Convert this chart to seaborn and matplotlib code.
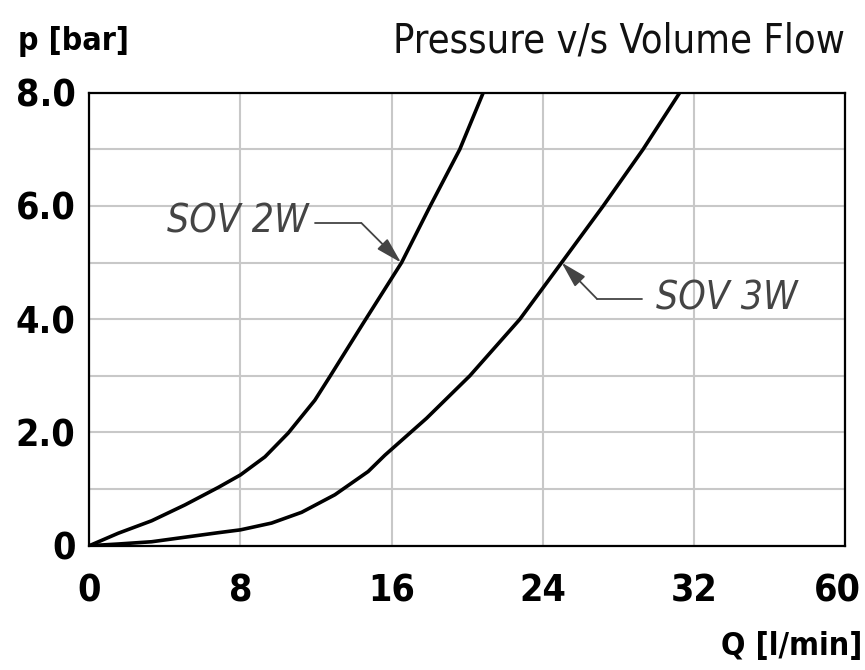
import seaborn as sns
import pandas as pd
import matplotlib.pyplot as plt
from matplotlib.transforms import ScaledTranslation
import numpy as np

# values
q_2w = [0, 1.53, 3.3, 5.06, 6.83, 8.0, 9.3, 10.53, 11.94, 12.74, 14.5, 16.53,
		18.03, 19.61, 20.85]
p_2w = [0, 0.22, 0.44, 0.72, 1.03, 1.25, 1.57, 1.99, 2.57, 2.99, 3.93, 5.0,
		5.99, 7.0, 8.0]

q_3w = [0, 1.53, 3.3, 5.06, 6.83, 8.0, 9.65, 11.24, 13.0, 14.76, 15.65, 17.85,
		20.14, 22.79, 25.0, 27.2, 29.31, 31.25]
p_3w = [0, 0.03, 0.07, 0.15, 0.23, 0.28, 0.40, 0.59, 0.90, 1.31, 1.60, 2.25,
		3.0, 4.0, 5.0, 6.0, 7.0, 8.0]

x_ticks = [0, 8, 16, 24, 32, 40]
x_tick_labels = ["0", "8", "16", "24", "32", "60"]
y_ticks = [0, 2, 4, 6, 8]
y_tick_labels = ["0", "2.0", "4.0", "6.0", "8.0"]
y_minor = [1, 3, 5, 7]

sns.set_style("white")
plt.rcParams['font.family'] = ['Liberation Sans Narrow', 'DejaVu Sans']
plt.rcParams['font.stretch'] = 'condensed'

df = pd.concat([
	pd.DataFrame({"Q": q_2w, "p": p_2w, "series": "SOV 2W"}),
	pd.DataFrame({"Q": q_3w, "p": p_3w, "series": "SOV 3W"}),
])

fig = plt.figure(figsize=(8.65, 6.70), dpi=100)
ax = fig.add_axes([0.1032, 0.1855, 0.8737, 0.6761])

sns.lineplot(data=df, x="Q", y="p", units="series", estimator=None,
			color="black", lw=2.6, sort=False, legend=False, ax=ax, zorder=3)

ax.set_xlim(0, 40)
ax.set_ylim(0, 8)
ax.set_xticks(x_ticks)
ax.set_xticklabels(x_tick_labels)
ax.set_yticks(y_ticks)
ax.set_yticklabels(y_tick_labels)
ax.set_yticks(y_minor, minor=True)
ax.tick_params(axis="both", which="both", length=0, labelsize=27,
			labelcolor="black")
ax.tick_params(axis="x", pad=20)
ax.tick_params(axis="y", pad=10)
for lab in ax.get_xticklabels() + ax.get_yticklabels():
	lab.set_fontweight("bold")

# last x label sits flush with the right edge in the original
last = ax.get_xticklabels()[-1]
last.set_ha("right")
last.set_transform(last.get_transform() + ScaledTranslation(0.16, 0, fig.dpi_scale_trans))

ax.grid(True, which="both", color="#c8c8c8", lw=1.5)
ax.set_axisbelow(True)
for s in ax.spines.values():
	s.set_visible(True)
	s.set_color("black")
	s.set_linewidth(1.6)
ax.set_xlabel("")
ax.set_ylabel("")

# annotations with leader lines
gray = "#444444"
arrow = dict(arrowstyle="-|>,head_length=0.8,head_width=0.22", color=gray,
			lw=1.3, shrinkA=0, shrinkB=0, mutation_scale=20)

ax.text(11.6, 5.72, "SOV 2W", ha="right", va="center", fontsize=28,
		style="italic", color=gray)
ax.plot([11.97, 14.4], [5.70, 5.70], color=gray, lw=1.3)
ax.annotate("", xy=(16.5, 5.0), xytext=(14.4, 5.70), arrowprops=arrow)

ax.text(30.0, 4.36, "SOV 3W", ha="left", va="center", fontsize=28,
		style="italic", color=gray)
ax.plot([26.87, 29.25], [4.36, 4.36], color=gray, lw=1.3)
ax.annotate("", xy=(25.0, 5.0), xytext=(26.87, 4.36), arrowprops=arrow)

fig.text(0.977, 0.922, "Pressure v/s Volume Flow", ha="right", va="baseline",
		fontsize=28.5, color="#111111")
fig.text(0.021, 0.925, "p [bar]", ha="left", va="baseline", fontsize=23,
		fontweight="bold", color="black")
fig.text(0.9965, 0.022, "Q [l/min]", ha="right", va="baseline", fontsize=23,
		fontweight="bold", color="black")

fig.savefig("out.png", dpi=100)
